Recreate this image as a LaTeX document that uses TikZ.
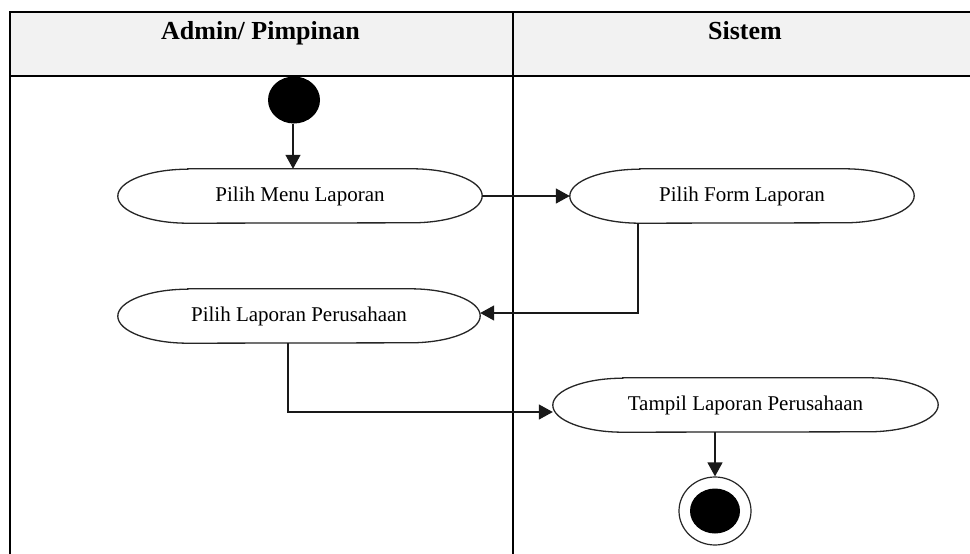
\documentclass[tikz,border=0pt]{standalone}
\usepackage{fontspec}
\setmainfont{Liberation Serif}
\usetikzlibrary{arrows.meta,shapes.geometric,calc}
\begin{document}
\begin{tikzpicture}[x=1pt,y=-1pt,
  grid/.style={line width=2.3pt,black},
  hdr/.style={font=\fontsize{26}{28}\selectfont\bfseries,anchor=base,inner sep=0},
  act/.style={rectangle,inner sep=0,minimum height=54pt,font=\fontsize{21}{23}\selectfont},
  actline/.style={draw=black!85,line width=1.3pt},
  flow/.style={line width=1.4pt,black!90,-{Triangle[length=14pt,width=15pt]}}
]
\useasboundingbox (0,0) rectangle (970,554);
\fill[white] (0,0) rectangle (970,554);
% swimlane table
\fill[black!5] (10,12) rectangle (970,76);
\draw[grid] (10,554) -- (10,12) -- (970,12);
\draw[grid] (10,76) -- (970,76);
\draw[grid] (513,12) -- (513,554);
\node[hdr] (h1) at (260.5,39) {Admin/ Pimpinan};
\node[hdr] (h2) at (745,39) {Sistem};
% nodes
\node[ellipse,fill=black,inner sep=0,minimum width=52pt,minimum height=47pt] (start) at (294,100) {};
\node[act,minimum width=364pt] (e1) at (300,196) {Pilih Menu Laporan};
\node[act,minimum width=344pt] (e2) at (742,196) {Pilih Form Laporan};
\node[act,minimum width=362pt] (e3) at (299,316) {Pilih Laporan Perusahaan};
\node[act,minimum width=385pt] (e4) at (745.5,405) {Tampil Laporan Perusahaan};
\node[ellipse,draw=black!85,line width=1.2pt,inner sep=0,minimum width=72pt,minimum height=68pt] (endo) at (715,511) {};
\node[ellipse,fill=black,inner sep=0,minimum width=50pt,minimum height=45pt] (endi) at (715,511) {};
\foreach \n in {e1,e2,e3,e4}{
  \draw[actline] ([xshift=70pt]\n.north west) -- ([xshift=-70pt]\n.north east)
    arc[start angle=90,end angle=-90,x radius=70pt,y radius=27pt]
    -- ([xshift=70pt]\n.south west)
    arc[start angle=270,end angle=90,x radius=70pt,y radius=27pt] -- cycle;
}
% connectors
\draw[flow] ([xshift=-1pt]start.south) -- ([xshift=-1pt]start.south |- e1.north);
\draw[flow] (e1.east) -- (e2.west);
\draw[flow] ([xshift=-104pt]e2.south) |- ([yshift=3pt]e3.east);
\draw[flow] ([xshift=-11pt]e3.south) |- ([yshift=-7pt]e4.west);
\draw[flow] (e4.south -| endo.north) -- (endo.north);
\end{tikzpicture}
\end{document}
